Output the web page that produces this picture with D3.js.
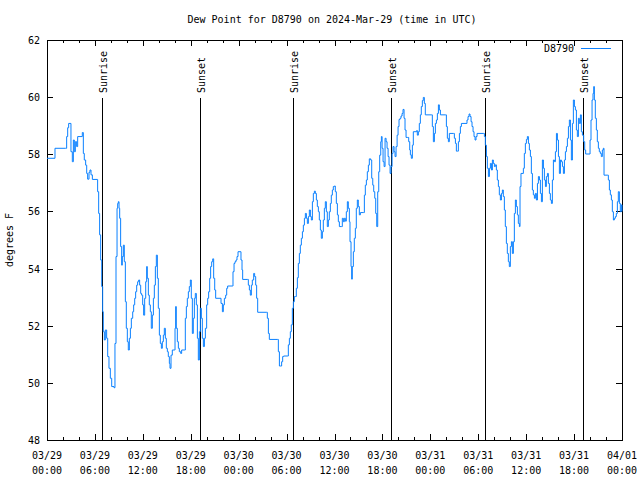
<!DOCTYPE html>
<html><head><meta charset="utf-8">
<script src="https://cdn.jsdelivr.net/npm/d3@7"></script>
<style>
html,body{margin:0;padding:0;background:#fff;}
text{font-family:"DejaVu Sans Mono",monospace;font-size:10px;fill:#000;}
</style></head>
<body><div id="chart"></div>
<script>
const title = "Dew Point for D8790 on 2024-Mar-29 (time in UTC)";
const seriesName = "D8790";
const yLabel = "degrees F";
const startUTC = Date.UTC(2024, 2, 29, 0, 0);
// hours since 03/29 00:00 UTC
const hours = [0.0,0.88,1.0,2.34,2.46,2.59,2.71,2.88,3.0,3.17,3.30,3.42,3.55,3.71,3.84,4.42,4.55,4.67,4.84,4.97,5.09,5.26,5.38,5.51,5.68,6.30,6.34,6.47,6.59,6.72,6.85,6.97,7.05,7.18,7.30,7.47,7.60,7.76,7.93,8.10,8.39,8.51,8.64,8.77,8.85,8.93,9.02,9.10,9.22,9.35,9.43,9.56,9.68,9.81,9.93,10.06,10.18,10.31,10.44,10.56,10.73,10.85,10.98,11.10,11.23,11.35,11.48,11.60,11.73,11.85,11.98,12.10,12.23,12.36,12.48,12.56,12.69,12.81,12.94,13.06,13.19,13.32,13.44,13.57,13.69,13.82,13.94,14.07,14.19,14.32,14.44,14.57,14.69,14.82,14.94,15.07,15.19,15.32,
15.40,15.53,15.69,15.99,16.03,16.11,16.19,16.32,16.45,16.57,16.74,16.86,17.20,17.32,17.45,17.57,17.70,17.82,17.95,18.07,18.20,18.32,18.45,18.57,18.70,18.83,18.95,19.08,19.20,19.33,19.45,19.58,19.71,19.83,19.99,20.12,20.24,20.37,20.49,20.62,20.75,20.87,21.00,21.12,21.66,21.79,21.96,22.08,22.21,22.37,22.50,22.62,23.21,23.29,23.42,23.54,23.67,23.79,23.92,24.17,24.29,24.42,24.50,25.09,25.21,25.34,25.46,25.59,25.71,25.88,26.00,26.13,26.25,26.38,27.51,27.59,27.72,27.84,28.84,28.97,29.10,29.26,29.38,29.51,29.63,30.09,30.22,30.35,
30.47,30.59,30.72,30.85,30.97,31.10,31.22,31.35,31.47,31.60,31.72,31.85,31.98,32.10,32.23,32.35,32.48,32.60,32.73,32.85,32.98,33.10,33.23,33.35,33.48,33.60,33.73,33.85,33.98,34.10,34.23,34.35,34.48,34.60,34.73,34.85,34.98,35.10,35.23,35.35,35.48,35.60,35.73,35.85,35.98,36.10,36.23,36.36,36.48,36.61,36.86,36.98,37.11,37.23,37.36,37.48,37.61,37.73,37.86,37.94,38.07,38.15,38.23,38.36,38.48,38.61,38.73,38.86,38.98,39.11,39.24,39.61,39.74,39.86,39.99,40.11,40.24,40.36,40.53,40.66,40.79,40.91,41.04,41.16,41.29,41.41,41.54,41.66,41.79,41.87,41.96,42.08,42.21,42.33,42.46,42.58,42.71,42.83,42.96,43.08,43.21,43.33,43.46,43.58,43.71,43.84,43.96,44.08,44.21,44.33,44.46,44.58,44.71,44.83,44.96,45.17,45.29,45.42,
45.50,45.62,45.75,45.87,46.29,46.37,46.50,46.62,46.75,46.87,47.00,47.12,47.25,47.37,48.13,48.25,48.38,48.51,48.63,48.76,48.88,49.01,49.13,49.26,49.88,50.01,50.13,50.26,50.38,50.89,51.01,51.14,51.26,51.39,51.51,51.64,51.76,51.89,52.47,52.59,52.72,52.85,52.97,53.10,53.22,53.35,53.47,53.60,53.72,53.85,54.64,54.77,54.89,55.02,55.14,55.27,55.40,55.52,55.65,55.77,55.89,56.02,56.14,56.27,56.39,56.52,56.64,56.77,56.90,57.02,
57.14,57.27,57.39,57.52,57.64,57.77,57.89,58.02,58.15,58.27,58.40,58.52,58.65,58.77,58.90,59.02,59.15,59.23,59.35,59.65,59.77,59.90,60.03,60.15,60.28,60.40,60.53,60.65,60.78,60.90,61.03,61.15,61.28,61.41,61.53,61.66,61.78,61.91,62.03,62.16,62.28,62.41,62.53,62.66,62.78,62.91,63.03,63.16,63.28,63.41,63.54,63.66,63.79,63.91,64.04,64.16,64.29,64.41,64.54,64.66,64.79,64.91,65.04,65.16,65.29,65.41,65.54,65.66,65.79,65.91,66.04,66.16,66.29,66.41,66.54,66.66,66.79,66.91,67.04,67.20,67.33,67.45,67.87,68.00,68.12,68.25,68.37,68.46,68.54,68.66,68.79,68.91,69.04,69.16,69.29,69.41,69.54,69.66,69.75,70.16,70.29,70.42,70.54,70.67,70.79,70.92,71.04,71.17,71.29,71.42,71.54,71.67,71.79,71.92,72.0];
const dewF = [57.86,57.86,58.21,58.21,58.62,58.93,59.08,59.08,58.09,57.74,58.50,58.09,58.44,58.27,58.62,58.76,58.03,57.80,57.62,57.33,57.13,57.37,57.45,57.28,57.12,57.12,56.69,55.93,55.18,54.30,53.37,52.49,51.79,51.50,51.85,51.56,50.92,50.51,50.16,49.87,49.83,51.38,54.42,56.11,56.28,56.34,56.11,55.76,54.77,54.12,54.42,54.82,54.24,52.84,51.91,51.44,51.15,51.56,51.91,52.26,52.49,52.73,52.96,53.19,53.42,53.54,53.60,53.42,53.13,53.07,52.73,52.37,52.96,53.54,54.07,53.66,53.07,52.73,52.49,51.91,52.37,52.96,53.42,54.07,54.47,53.66,52.61,51.67,51.38,51.21,51.44,51.67,51.91,51.56,51.21,51.09,50.92,50.68,
50.51,50.97,51.15,51.15,51.91,52.67,51.91,51.44,51.21,51.09,51.03,51.15,51.15,52.26,52.67,52.96,53.19,53.37,53.60,52.96,51.73,52.26,52.96,53.13,52.73,51.56,50.80,51.79,52.61,52.26,51.56,51.27,51.56,51.91,52.73,52.96,53.19,53.66,54.07,54.24,54.34,53.66,53.25,52.96,52.96,52.78,52.49,52.73,52.96,53.07,53.31,53.39,53.39,53.89,54.18,54.24,54.30,54.42,54.59,54.59,54.30,53.95,53.62,53.62,53.42,53.25,53.07,53.42,53.60,53.83,53.72,53.42,52.96,52.47,52.47,52.26,51.73,51.52,51.52,51.09,50.59,50.59,50.74,50.92,50.94,50.94,51.33,51.56,
51.79,52.03,52.61,52.84,53.02,53.02,53.31,53.68,54.18,54.53,54.82,55.06,55.29,55.52,55.76,55.93,55.76,55.58,55.82,56.05,55.82,55.70,56.34,56.63,56.71,56.63,56.40,56.17,55.99,55.70,55.35,55.06,55.29,55.70,56.11,56.34,55.99,55.47,55.70,55.99,56.28,56.57,56.75,56.87,56.89,56.69,56.28,55.88,55.64,55.47,55.47,55.76,55.64,55.76,55.66,55.99,56.34,56.11,55.64,54.94,54.07,53.63,54.07,54.59,55.06,55.41,56.11,56.40,56.17,55.88,55.96,55.96,56.57,56.92,57.10,57.39,57.62,57.84,57.80,57.16,56.92,56.69,56.46,55.93,55.47,56.69,57.39,57.97,58.44,58.62,58.21,57.74,57.57,58.56,58.44,58.21,57.92,57.62,57.33,57.57,58.03,58.27,58.09,57.92,58.27,58.67,58.97,59.22,59.26,59.34,59.43,59.57,59.26,58.85,58.59,58.59,58.44,58.15,
57.98,57.86,58.32,58.79,58.83,58.67,58.79,59.08,59.38,59.67,59.88,59.99,59.78,59.38,59.38,58.97,58.44,58.73,59.08,59.20,59.43,59.73,59.55,59.38,59.38,58.97,58.56,58.44,58.73,58.73,58.56,58.38,58.11,58.11,58.44,58.73,58.97,59.08,59.08,59.20,59.32,59.41,59.32,59.14,58.97,58.79,58.62,58.50,58.62,58.73,58.73,58.62,58.32,57.92,57.51,57.22,57.51,57.68,57.45,57.80,57.68,57.57,57.63,57.45,57.10,56.87,56.58,56.40,56.63,56.75,
56.52,56.05,55.47,54.88,54.53,54.24,54.07,54.77,54.94,54.53,54.94,55.93,56.40,56.17,55.88,55.58,55.47,56.87,57.33,57.51,58.03,58.38,58.52,58.62,58.38,58.15,57.92,57.33,56.75,56.58,56.46,56.63,56.40,56.98,57.22,57.10,56.63,56.34,57.80,57.51,57.10,56.87,57.22,57.33,56.98,56.63,56.40,56.28,57.10,57.80,57.74,58.09,58.73,58.50,57.92,57.33,57.80,57.74,57.57,57.33,57.80,58.09,58.27,58.56,58.97,59.20,58.50,57.80,59.08,59.90,59.67,59.55,58.85,58.62,59.26,59.08,59.38,58.79,58.67,58.44,58.15,58.01,58.01,58.50,59.20,59.90,60.13,60.37,59.90,59.26,58.85,58.44,58.21,58.09,58.03,57.92,58.15,58.21,57.27,57.27,57.10,56.75,56.58,56.40,55.99,55.70,55.76,55.82,55.93,56.34,56.69,56.28,55.99,56.23,56.0];
// sun events, hours since start
const sunHours = [6.92, 19.20, 30.84, 43.11, 54.90, 67.15];
const sunLabels = ["Sunrise","Sunset","Sunrise","Sunset","Sunrise","Sunset"];
const yTicks = [48,50,52,54,56,58,60,62];
const xTickHours = [0,6,12,18,24,30,36,42,48,54,60,66,72];

const W = 640, H = 480;
const m = {l:47, r:622, t:40, b:440};
const svg = d3.select("#chart").append("svg").attr("width", W).attr("height", H);
const toDate = h => new Date(startUTC + h*3600000);
const x = d3.scaleUtc().domain([toDate(0), toDate(72)]).range([m.l, m.r]);
const y = d3.scaleLinear().domain([48, 62]).range([m.b, m.t]);

// title
svg.append("text").attr("x", 332).attr("y", 23).attr("text-anchor", "middle").text(title);
// y label
svg.append("text").attr("transform", "translate(13,240) rotate(-90)").attr("text-anchor", "middle").text(yLabel);

const g = svg.append("g").attr("shape-rendering", "crispEdges");
// border
g.append("rect").attr("x", m.l + 0.5).attr("y", m.t + 0.5).attr("width", m.r - m.l).attr("height", m.b - m.t)
 .attr("fill", "none").attr("stroke", "#000");

// y ticks (in, both sides)
const fmtDate = d3.utcFormat("%m/%d"), fmtTime = d3.utcFormat("%H:%M");
yTicks.forEach(v => {
  const yy = Math.round(y(v)) + 0.5;
  g.append("line").attr("x1", m.l).attr("x2", m.l + 6).attr("y1", yy).attr("y2", yy).attr("stroke", "#000");
  g.append("line").attr("x1", m.r - 6).attr("x2", m.r).attr("y1", yy).attr("y2", yy).attr("stroke", "#000");
  svg.append("text").attr("x", 40).attr("y", y(v) + 4).attr("text-anchor", "end").text(v);
});
// x ticks
const minor = d3.range(0, 73, 2);
minor.forEach(h => {
  const xx = Math.round(x(toDate(h))) + 0.5;
  const len = (h % 6 === 0) ? 6 : 3;
  g.append("line").attr("x1", xx).attr("x2", xx).attr("y1", m.b).attr("y2", m.b - len).attr("stroke", "#000");
  g.append("line").attr("x1", xx).attr("x2", xx).attr("y1", m.t).attr("y2", m.t + len).attr("stroke", "#000");
});
xTickHours.forEach(h => {
  const d = toDate(h), xx = x(d);
  svg.append("text").attr("x", xx).attr("y", 459).attr("text-anchor", "middle").text(fmtDate(d));
  svg.append("text").attr("x", xx).attr("y", 474).attr("text-anchor", "middle").text(fmtTime(d));
});

// sun lines
sunHours.forEach((h, i) => {
  const xx = Math.round(x(toDate(h))) + 0.5;
  g.append("line").attr("x1", xx).attr("x2", xx).attr("y1", 98).attr("y2", m.b).attr("stroke", "#000");
  svg.append("text").attr("transform", `translate(${xx + 4},93) rotate(-90)`).attr("text-anchor", "start").text(sunLabels[i]);
});

// data line
const data = hours.map((h, i) => ({t: toDate(h), v: dewF[i]}));
const line = d3.line().x(d => x(d.t)).y(d => y(d.v)).curve(d3.curveStepAfter);
svg.append("path").datum(data).attr("d", line).attr("fill", "none").attr("stroke", "#0a80ff").attr("stroke-width", 1);

// legend
svg.append("text").attr("x", 574).attr("y", 52).attr("text-anchor", "end").text(seriesName);
g.append("line").attr("x1", 581).attr("x2", 611).attr("y1", 48.5).attr("y2", 48.5).attr("stroke", "#0a80ff");
</script></body></html>
